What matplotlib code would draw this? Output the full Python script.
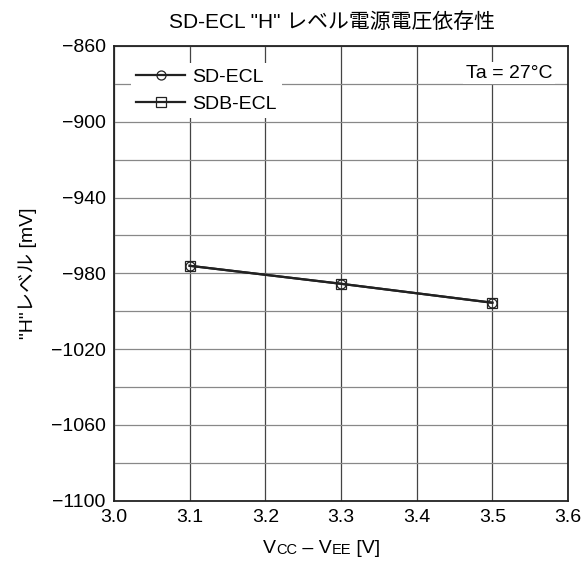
import matplotlib
matplotlib.use('Agg')
import matplotlib.pyplot as plt
from matplotlib.ticker import MultipleLocator

plt.rcParams['font.family'] = ['Liberation Sans', 'Noto Sans CJK JP', 'DejaVu Sans']

# data
vcc_vee = [3.1, 3.3, 3.5]
sd_ecl = [-976, -985.5, -995.5]
sdb_ecl = [-976, -985.5, -995.5]
y_ticks = [-1100, -1060, -1020, -980, -940, -900, -860]

fig = plt.figure(figsize=(5.86, 5.72), dpi=100)
ax = fig.add_axes([0.1945, 0.1246, 0.7748, 0.795])

ax.plot(vcc_vee, sd_ecl, color='#222222', lw=1.6, marker='o', ms=6.5,
        mfc='none', mec='#222222', mew=0.9, label='SD-ECL', zorder=3)
ax.plot(vcc_vee, sdb_ecl, color='#222222', lw=1.6, marker='s', ms=7.5,
        mfc='none', mec='#222222', mew=0.9, label='SDB-ECL', zorder=3)

ax.set_xlim(3.0, 3.6)
ax.set_ylim(-1100, -860)
ax.xaxis.set_major_locator(MultipleLocator(0.1))
ax.set_yticks(y_ticks)
ax.yaxis.set_minor_locator(MultipleLocator(20))
ax.grid(True, which='major', axis='x', color='#444444', lw=0.9)
ax.grid(True, which='both', axis='y', color='#888888', lw=0.9)
ax.tick_params(which='both', length=0, labelsize=14, pad=6)
for s in ax.spines.values():
    s.set_linewidth(1.3)
    s.set_color('#222222')

ax.set_title('SD-ECL "H" レベル電源電圧依存性', fontsize=15, pad=13, x=0.48)
ax.set_ylabel('"H"レベル [mV]', fontsize=14, labelpad=10)

leg = ax.legend(loc='upper left', bbox_to_anchor=(0.0, 1.0), frameon=True,
                fontsize=14, handlelength=2.5, handletextpad=0.35,
                labelspacing=0.46, borderaxespad=0.85, borderpad=0.3)
leg.get_frame().set_edgecolor('none')
leg.get_frame().set_facecolor('white')
leg.get_frame().set_alpha(1)

ax.text(0.965, 0.94, 'Ta = 27°C', transform=ax.transAxes, ha='right',
        va='center', fontsize=14,
        bbox=dict(facecolor='white', edgecolor='none', pad=2))

# x label with small caps subscripts
t1 = fig.text(0.449, 0.033, 'V', fontsize=14, ha='left', va='baseline')
t2 = ax.annotate('CC', xy=(1, 0), xycoords=t1, fontsize=10.5, ha='left', va='bottom')
t3 = ax.annotate(' – V', xy=(1, 0), xycoords=t2, fontsize=14, ha='left', va='bottom')
t4 = ax.annotate('EE', xy=(1, 0), xycoords=t3, fontsize=10.5, ha='left', va='bottom')
t5 = ax.annotate(' [V]', xy=(1, 0), xycoords=t4, fontsize=14, ha='left', va='bottom')

fig.savefig('out.png', dpi=100)
